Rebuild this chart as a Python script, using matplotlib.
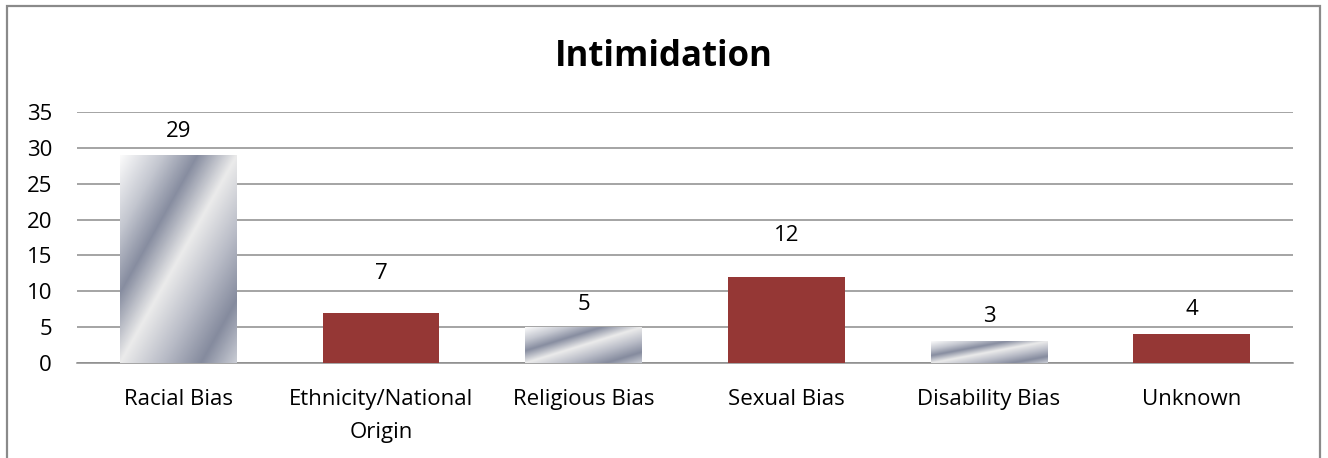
import numpy as np
import matplotlib
matplotlib.use("Agg")
import matplotlib.pyplot as plt
from matplotlib.colors import LinearSegmentedColormap
from matplotlib.patches import Rectangle

# chart data
categories = ["Racial Bias", "Ethnicity/National\nOrigin", "Religious Bias",
              "Sexual Bias", "Disability Bias", "Unknown"]
counts = [29, 7, 5, 12, 3, 4]
yticks = [0, 5, 10, 15, 20, 25, 30, 35]

# styling
red = "#953735"
grid_col = "#8c8c8c"
metal = LinearSegmentedColormap.from_list("metal", [
    (0.00, "#fbfbfb"), (0.18, "#c4c7d0"), (0.33, "#878da0"),
    (0.50, "#ebebeb"), (0.68, "#b9bcc7"), (0.85, "#858b9e"), (1.00, "#c9ccd4")])
label_pad = [17, 28, 16, 30, 18, 18]  # points above bar top (label centre)
fs = 16

plt.rcParams['font.family'] = ['Open Sans', 'DejaVu Sans']

fig = plt.figure(figsize=(13.28, 4.58), dpi=100)
ax = fig.add_axes([77 / 1328, 95 / 458, (1293 - 77) / 1328, (363 - 112) / 458])

# outer chart frame (bottom edge off the image)
fig.patches.append(Rectangle((7 / 1328, -0.05), (1320 - 7) / 1328, 1.05 - 6 / 458,
                             transform=fig.transFigure, fill=False,
                             edgecolor="#8a8a8a", linewidth=1.6))

x = np.arange(len(categories))
w = 0.577
bars = ax.bar(x, counts, width=w, zorder=3, linewidth=0)

# gradient texture in bar-relative coordinates
n = 200
uu, vv = np.meshgrid(np.linspace(0, 1, n), np.linspace(0, 1, n))
tex = (uu + vv) / 2

for i, (b, val) in enumerate(zip(bars, counts)):
    if i % 2 == 0:
        b.set_facecolor("none")
        im = ax.imshow(tex, cmap=metal, vmin=0, vmax=1, aspect="auto",
                       extent=(b.get_x(), b.get_x() + w, 0, val),
                       origin="upper", zorder=3, interpolation="bilinear")
        im.set_clip_path(b)
    else:
        b.set_facecolor(red)
    ax.annotate(str(val), (b.get_x() + w / 2, val), xytext=(0, label_pad[i]),
                textcoords="offset points", ha="center", va="center",
                fontsize=fs, color="black")

ax.set_xlim(-0.5, len(categories) - 0.5)
ax.set_ylim(0, 35)
ax.set_yticks(yticks)
ax.set_xticks(x)
ax.set_xticklabels(categories, fontsize=fs, linespacing=1.75)
ax.tick_params(axis="y", length=0, pad=18, labelsize=fs)
ax.tick_params(axis="x", length=0, pad=19)
ax.yaxis.grid(True, color=grid_col, linewidth=1.1, zorder=0)
ax.set_axisbelow(True)
for s in ["top", "right", "left"]:
    ax.spines[s].set_visible(False)
ax.spines["bottom"].set_color(grid_col)
ax.spines["bottom"].set_linewidth(1.1)

fig.text(664 / 1328, 1 - 57 / 458, "Intimidation", ha="center", va="center",
         fontsize=25, fontweight="bold")

fig.savefig("out.png", dpi=100, facecolor="white")
